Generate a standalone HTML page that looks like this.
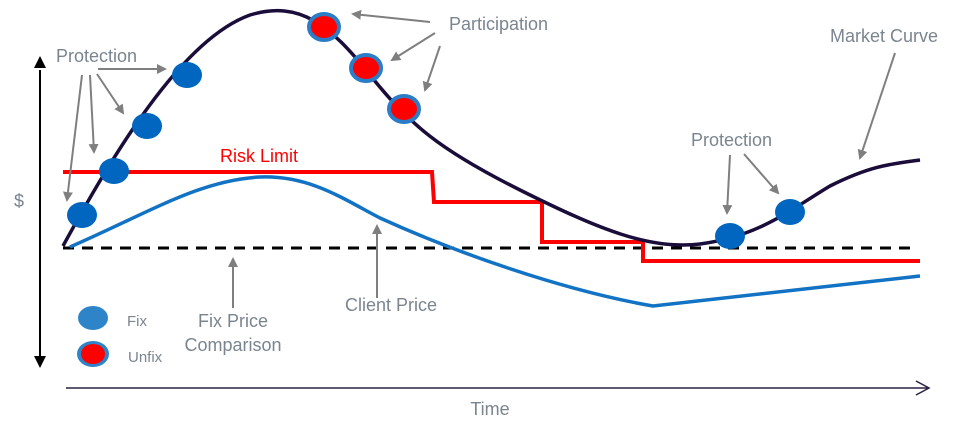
<!DOCTYPE html>
<html><head><meta charset="utf-8"><style>
html,body{margin:0;padding:0;background:#fff;}
svg{display:block;}
text{font-family:"Liberation Sans",sans-serif;fill:#7a8590;}
</style></head><body>
<svg width="974" height="433" viewBox="0 0 974 433" xmlns="http://www.w3.org/2000/svg">
<defs>
<marker id="ga" markerWidth="10" markerHeight="10" refX="8" refY="5" orient="auto" markerUnits="userSpaceOnUse"><path d="M0,0 L10,5 L0,10 Z" fill="#7f7f7f"/></marker>
<marker id="ba" markerWidth="12" markerHeight="12" refX="10" refY="6" orient="auto" markerUnits="userSpaceOnUse"><path d="M0,0 L12,6 L0,12 Z" fill="#000"/></marker>
</defs>
<!-- axes -->
<line x1="40" y1="70" x2="40" y2="356" stroke="#000" stroke-width="2"/>
<path d="M34,68 L40,56 L46,68 Z" fill="#000"/>
<path d="M34,356 L40,368 L46,356 Z" fill="#000"/>
<line x1="66" y1="388" x2="928" y2="388" stroke="#2a2040" stroke-width="1.5"/>
<path d="M916,381 L929,388 L916,395" fill="none" stroke="#2a2040" stroke-width="1.5"/>
<!-- dashed -->
<line x1="63" y1="248" x2="918" y2="248" stroke="#000" stroke-width="3" stroke-dasharray="11,8"/>
<!-- risk limit -->
<path d="M63,172 L432,172 L434,202 L542,202 L542,242 L643,242 L643,261 L920,261" fill="none" stroke="#f00" stroke-width="4"/>
<!-- client price -->
<path d="M70,247 C150,212 200,180 260,177 C310,175 345,200 380,218 C450,250 560,290 653,306 L920,276" fill="none" stroke="#1272c4" stroke-width="3.5"/>
<!-- market curve -->
<path d="M63,246 C110,160 180,40 250,15 C300,0 330,25 370,75 C410,125 440,150 520,190 C600,230 650,250 700,244 C760,236 790,210 830,186 C870,166 890,164 920,160" fill="none" stroke="#1a0d3a" stroke-width="3.5"/>
<!-- fix dots -->
<g fill="#0066bf">
<ellipse cx="82" cy="215" rx="15" ry="13"/>
<ellipse cx="114" cy="171" rx="15" ry="13"/>
<ellipse cx="147" cy="126" rx="15" ry="13"/>
<ellipse cx="187" cy="75" rx="15" ry="13"/>
<ellipse cx="730" cy="236" rx="15" ry="13"/>
<ellipse cx="790" cy="212" rx="15" ry="13"/>
</g>
<!-- unfix dots -->
<g fill="#f00" stroke="#2a7dc6" stroke-width="4">
<ellipse cx="324" cy="27" rx="15" ry="13"/>
<ellipse cx="366" cy="68" rx="15" ry="13"/>
<ellipse cx="404" cy="109" rx="15" ry="13"/>
</g>
<!-- gray arrows -->
<g stroke="#7f7f7f" stroke-width="2" marker-end="url(#ga)">
<line x1="82" y1="75" x2="67" y2="200"/>
<line x1="90" y1="75" x2="94" y2="152"/>
<line x1="97" y1="74" x2="123" y2="113"/>
<line x1="98" y1="69" x2="165" y2="69"/>
<line x1="430" y1="22" x2="353" y2="14"/>
<line x1="435" y1="33" x2="392" y2="60"/>
<line x1="440" y1="46" x2="425" y2="90"/>
<line x1="730" y1="155" x2="727" y2="213"/>
<line x1="744" y1="154" x2="778" y2="193"/>
<line x1="895" y1="53" x2="860" y2="158"/>
<line x1="233" y1="308" x2="233" y2="259"/>
<line x1="377" y1="298" x2="377" y2="226"/>
</g>
<!-- labels -->
<text x="56" y="62" font-size="18">Protection</text>
<text x="449" y="30" font-size="18">Participation</text>
<text x="830" y="42" font-size="18">Market Curve</text>
<text x="691" y="146" font-size="18">Protection</text>
<text x="220" y="162" font-size="18" style="fill:#f00">Risk Limit</text>
<text x="14" y="207" font-size="18">$</text>
<text x="233" y="327" font-size="18" text-anchor="middle">Fix Price</text>
<text x="233" y="351" font-size="18" text-anchor="middle">Comparison</text>
<text x="391" y="311" font-size="18" text-anchor="middle">Client Price</text>
<text x="490" y="415" font-size="18" text-anchor="middle">Time</text>
<ellipse cx="93" cy="318" rx="15" ry="12" fill="#2d84c8"/>
<ellipse cx="93" cy="354" rx="16" ry="13" fill="#2d84c8"/>
<ellipse cx="93" cy="354" rx="12" ry="10" fill="#f00"/>
<text x="127" y="326" font-size="15">Fix</text>
<text x="128" y="362" font-size="15">Unfix</text>
</svg>
</body></html>
